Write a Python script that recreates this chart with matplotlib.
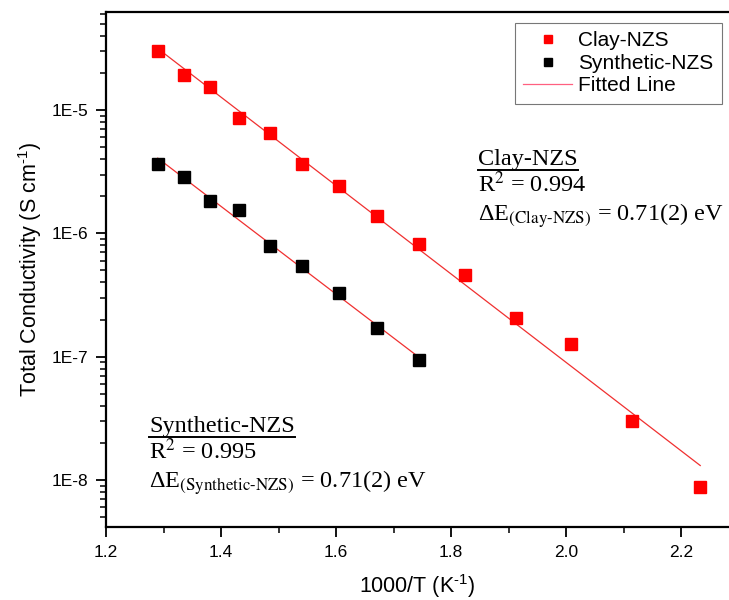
import numpy as np
import matplotlib
matplotlib.use("Agg")
import matplotlib.pyplot as plt
from matplotlib.ticker import LogLocator, FuncFormatter, MultipleLocator, NullFormatter

plt.rcParams['font.family'] = ['Liberation Sans', 'DejaVu Sans']
plt.rcParams['mathtext.fontset'] = 'custom'
plt.rcParams['mathtext.rm'] = 'Liberation Sans'
plt.rcParams['mathtext.it'] = 'Liberation Sans:italic'

# 1000/T values (K^-1)
clay_x = [1.290, 1.336, 1.381, 1.431, 1.485, 1.541, 1.605, 1.671, 1.744,
          1.824, 1.913, 2.009, 2.115, 2.233]
clay_sigma = [3.0e-5, 1.92e-5, 1.54e-5, 8.6e-6, 6.5e-6, 3.65e-6, 2.42e-6, 1.38e-6,
              8.2e-7, 4.6e-7, 2.06e-7, 1.27e-7, 3.0e-8, 8.8e-9]

syn_x = [1.290, 1.336, 1.381, 1.431, 1.485, 1.541, 1.605, 1.671, 1.744]
syn_sigma = [3.65e-6, 2.86e-6, 1.83e-6, 1.55e-6, 7.9e-7, 5.4e-7, 3.28e-7, 1.71e-7, 9.4e-8]


def fit_line(x, y):
    p = np.polyfit(x, np.log10(y), 1)
    xx = np.array([min(x), max(x)])
    return xx, 10 ** np.polyval(p, xx)


fig = plt.figure(figsize=(7.29, 6.0), dpi=100)
ax = fig.add_axes([0.1454, 0.1217, 0.8546, 0.8583])

ax.set_yscale('log')

red = '#ff0000'
ax.plot(clay_x, clay_sigma, 's', color=red, ms=8, label='Clay-NZS', zorder=3)
ax.plot(syn_x, syn_sigma, 's', color='black', ms=8, label='Synthetic-NZS', zorder=3)

fx, fy = fit_line(clay_x, clay_sigma)
ax.plot(fx, fy, '-', color='#f03030', lw=0.9, label='Fitted Line', zorder=2)
fx, fy = fit_line(syn_x, syn_sigma)
ax.plot(fx, fy, '-', color='#f03030', lw=0.9, zorder=2)

ax.set_xlim(1.2, 2.283)
ax.set_ylim(10 ** -8.381, 10 ** -4.205)

ax.xaxis.set_major_locator(MultipleLocator(0.2))
ax.xaxis.set_minor_locator(MultipleLocator(0.1))
ax.xaxis.set_major_formatter(FuncFormatter(lambda v, p: f"{v:.1f}"))
ax.yaxis.set_major_locator(LogLocator(base=10, numticks=10))
ax.yaxis.set_minor_locator(LogLocator(base=10, subs=np.arange(2, 10), numticks=20))
ax.yaxis.set_major_formatter(FuncFormatter(lambda v, p: f"1E{int(round(np.log10(v)))}"))
ax.yaxis.set_minor_formatter(NullFormatter())

ax.tick_params(which='major', direction='out', length=7, width=1.3, labelsize=12.5, pad=6)
ax.tick_params(which='minor', direction='out', length=4, width=1.1)
ax.tick_params(top=False, right=False)
for s in ['left', 'bottom', 'top']:
    ax.spines[s].set_linewidth(1.6)
ax.spines['right'].set_visible(False)

ax.set_xlabel('1000/T (K$^{\\text{-1}}$)', fontsize=15.5, labelpad=9)
ax.set_ylabel('Total Conductivity (S cm$^{\\text{-1}}$)', fontsize=15.5, labelpad=5)

leg = ax.legend(loc='upper right', bbox_to_anchor=(0.9888, 0.9786), borderaxespad=0,
                fontsize=15, frameon=True, fancybox=False, edgecolor='#555555',
                handlelength=2.35, handletextpad=0.3, borderpad=0.4, labelspacing=0.17,
                numpoints=1, markerscale=0.75)
leg.get_frame().set_linewidth(0.8)
leg.get_lines()[2].set_color('#ff6080')

serif = {'family': 'Liberation Serif', 'size': 17.5}


def block(x, y, title, r2, name):
    t = ax.text(x, y, title, transform=ax.transAxes, fontdict=serif, va='baseline')
    fig.canvas.draw()
    bb = t.get_window_extent().transformed(ax.transAxes.inverted())
    ax.plot([bb.x0, bb.x1], [y - 0.0107, y - 0.0107], transform=ax.transAxes,
            color='black', lw=1.4, clip_on=False)
    ax.text(x, y - 0.0525, 'R$^{2}$ = ' + r2, transform=ax.transAxes, fontdict=serif,
            va='baseline', math_fontfamily='stix')
    ax.text(x, y - 0.109, '\u0394E$_{\\text{(' + name + ')}}$ = 0.71(2) eV',
            transform=ax.transAxes, fontdict=serif, va='baseline', math_fontfamily='stix')


block(0.597, 0.703, 'Clay-NZS', '0.994', 'Clay-NZS')
block(0.069, 0.185, 'Synthetic-NZS', '0.995', 'Synthetic-NZS')

fig.savefig('out.png', dpi=100)
